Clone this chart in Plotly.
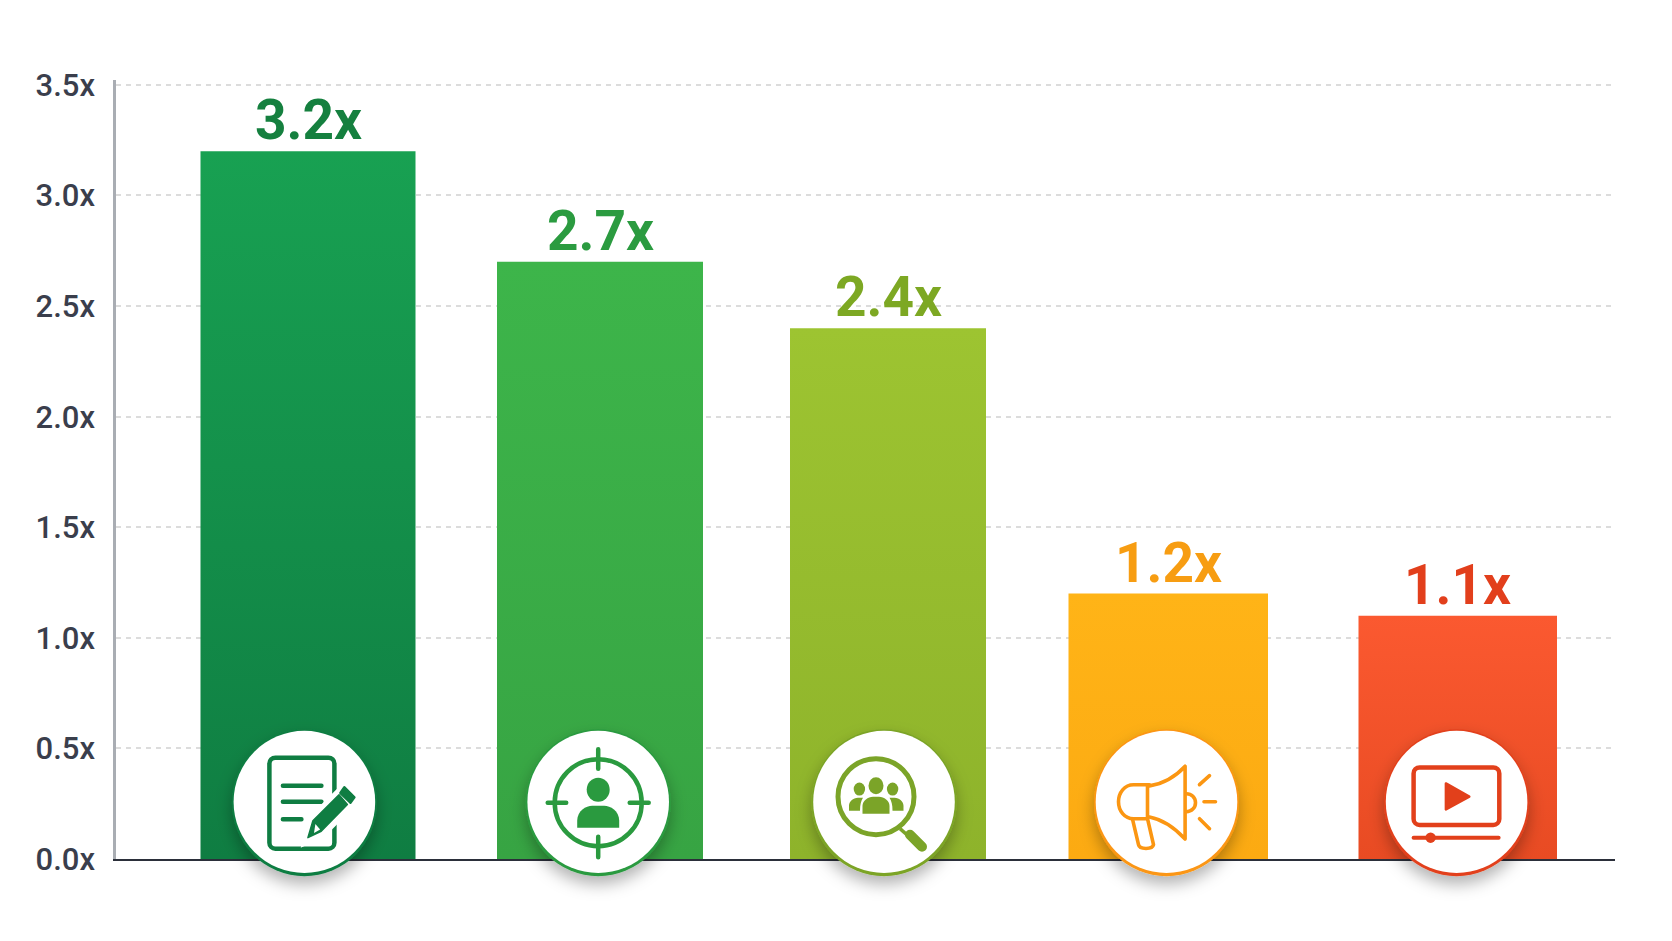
import base64
import plotly.graph_objects as go

# Chart data
categories = ["Written content", "Targeting", "Community", "Advertising", "Video"]
multipliers = [3.2, 2.7, 2.4, 1.2, 1.1]
tick_values = [0.0, 0.5, 1.0, 1.5, 2.0, 2.5, 3.0, 3.5]
tick_labels = ["0.0x", "0.5x", "1.0x", "1.5x", "2.0x", "2.5x", "3.0x", "3.5x"]

# Page frame, in pixels
WIDTH, HEIGHT = 1672, 941
LEFT, RIGHT, TOP, BOTTOM = 116.0, 1615.0, 80.0, 858.8
GRID_TOP = 84.9
Y_TOP = 3.5 + (GRID_TOP - TOP) / ((BOTTOM - GRID_TOP) / 3.5)

# Bars are slightly unevenly spaced: edges in pixels, converted to category units below
CENTER0, STEP = 308.7, 287.3
bar_edges = [(200.5, 415.5), (497, 703), (790, 986), (1068.5, 1268), (1358.5, 1557)]
bar_offsets = [(a - CENTER0) / STEP - i for i, (a, b) in enumerate(bar_edges)]
bar_widths = [(b - a) / STEP for a, b in bar_edges]

gradient_top = ["#18a152", "#3db54a", "#9dc431", "#ffb417", "#fb5930"]
gradient_bottom = ["#0f7d42", "#37a443", "#8eb32b", "#fcaa12", "#e84b23"]
label_colors = ["#15803f", "#2b9b40", "#7da823", "#f79d12", "#e23f1c"]
icon_colors = ["#0f7d42", "#2a9a3f", "#7ba428", "#fb9612", "#e2401b"]
badge_x = [304.4, 598.2, 884.0, 1166.5, 1456.6]
BADGE_Y, BADGE_BOX = 802.5, 220

doc_icon = """
<rect x="-35" y="-45" width="65" height="91" rx="6" fill="none" stroke="C" stroke-width="4.5"/>
<path d="M-21.5-17H17M-21.5-1H17M-21.5 16.5H-3" fill="none" stroke="C" stroke-width="4.5" stroke-linecap="round"/>
<path d="M3 37 8 17 35-10 46 2 18 30Z" fill="#fff" stroke="#fff" stroke-width="9"/>
<path d="M3.5 35 8.5 18 34.6-7.9 43 1.8 16.8 28.6Z" fill="C" stroke="C" stroke-width="1.5" stroke-linejoin="round"/>
<path d="M40-15.4 50-5.4 46 0 36-9.6Z" fill="C" stroke="C" stroke-width="2.5" stroke-linejoin="round"/>
<path d="M11 21.4 15.7 26.8 9.6 30.4Z" fill="#fff"/>
"""
target_icon = """
<circle r="43.5" fill="none" stroke="C" stroke-width="4.5"/>
<path d="M0-53.5V-34M0 34V54.5M-50.5 0H-32M31.5 0H50.5" fill="none" stroke="C" stroke-width="4.5" stroke-linecap="round"/>
<ellipse cx="0" cy="-13" rx="11.5" ry="12" fill="C"/>
<path d="M-21 25V18C-21 8-12 3-6 3H6C12 3 21 8 21 18V25Z" fill="C"/>
"""
search_icon = """
<circle cx="-8" cy="-6" r="38" fill="none" stroke="C" stroke-width="5"/>
<path d="M16 26 24 33" stroke="C" stroke-width="3.5"/>
<path d="M26 32 38 44" stroke="C" stroke-width="10" stroke-linecap="round"/>
<ellipse cx="-8" cy="-17" rx="7.5" ry="8.5" fill="C"/>
<ellipse cx="-24.6" cy="-13.6" rx="5.7" ry="6.5" fill="C"/>
<ellipse cx="8.6" cy="-13.6" rx="5.7" ry="6.5" fill="C"/>
<path d="M-35 8V3C-35-1-31-5-26-5H-21C-23-2-24 2-24 8Z" fill="C"/>
<path d="M19.5 8V3C19.5-1 15.5-5 10.5-5H5.5C7.5-2 8.500 2 8.500 8Z" fill="C"/>
<path d="M-21.500 11V3C-21.500-2-16-6-11-6H-5C0-6 5.500-2 5.500 3V11Z" fill="C"/>
"""
horn_icon = """
<g fill="none" stroke="C" stroke-width="3.6" stroke-linecap="round" stroke-linejoin="round">
<path d="M-17-16.800C-3-19 9-26 18.600-36.400V36.400C9 26-3 17-17 14.300"/>
<path d="M-19 16H-33C-42 16-48 8-48-1-48-10-42-18-33-18H-19ZM-19-18H-17"/>
<path d="M-34 16.400-28 42C-27 47-14 47-13 42L-19 16"/>
<path d="M20-9A9 9 0 0 1 20 9"/>
<path d="M33-18 43-27M37.500-1H49M33 16 43 26"/>
</g>
"""
video_icon = """
<rect x="-43" y="-35.300" width="85.700" height="57.600" rx="6" fill="none" stroke="C" stroke-width="4.500"/>
<path d="M-10.700-19.300 12.700-6-10.700 6.700Z" fill="C" stroke="C" stroke-width="2.500" stroke-linejoin="round"/>
<path d="M-43 35H42" stroke="C" stroke-width="4" stroke-linecap="round"/>
<circle cx="-26" cy="35" r="5.200" fill="C"/>
"""
icons = [doc_icon, target_icon, search_icon, horn_icon, video_icon]


def badge_uri(icon, color):
    """White round badge with a soft shadow, a thin coloured rim and its pictogram."""
    body = icon.replace('"C"', f'"{color}"')
    half = BADGE_BOX / 2
    svg = f"""<svg xmlns="http://www.w3.org/2000/svg" width="{BADGE_BOX}" height="{BADGE_BOX}" viewBox="{-half} {-half} {BADGE_BOX} {BADGE_BOX}">
<defs><filter id="s" x="-30%" y="-30%" width="160%" height="170%"><feDropShadow dx="0" dy="8" stdDeviation="8" flood-color="#000" flood-opacity="0.3"/></filter></defs>
<ellipse cx="0" cy="0" rx="72.500" ry="73.500" fill="{color}" filter="url(#s)"/>
<ellipse cx="0" cy="-0.800" rx="70.800" ry="71" fill="#fff"/>
{body}</svg>"""
    return "data:image/svg+xml;base64," + base64.b64encode(svg.encode()).decode()


fig = go.Figure(
    go.Bar(
        x=categories,
        y=multipliers,
        width=bar_widths,
        offset=bar_offsets,
        marker=dict(color=gradient_top, line=dict(width=0)),
        hoverinfo="skip",
    )
)

# Value labels sit just above their bars
for i, value in enumerate(multipliers):
    fig.add_annotation(
        x=i + bar_offsets[i] + bar_widths[i] / 2,
        y=value,
        text=f"{value:.1f}x",
        showarrow=False,
        yanchor="bottom",
        yshift=-3,
        font=dict(family="Roboto", size=55, weight=700, color=label_colors[i]),
    )

for px, icon, color in zip(badge_x, icons, icon_colors):
    fig.add_layout_image(
        source=badge_uri(icon, color),
        xref="paper",
        yref="paper",
        x=(px - LEFT) / (RIGHT - LEFT),
        y=(BOTTOM - BADGE_Y) / (BOTTOM - TOP),
        sizex=BADGE_BOX / (RIGHT - LEFT),
        sizey=BADGE_BOX / (BOTTOM - TOP),
        sizing="stretch",
        xanchor="center",
        yanchor="middle",
        layer="above",
    )

fig.update_layout(
    width=WIDTH,
    height=HEIGHT,
    margin=dict(l=LEFT, r=WIDTH - RIGHT, t=TOP, b=HEIGHT - BOTTOM, pad=0),
    paper_bgcolor="#ffffff",
    plot_bgcolor="#ffffff",
    showlegend=False,
    font=dict(family="Roboto"),
    xaxis=dict(
        type="category",
        range=[(LEFT - CENTER0) / STEP, (RIGHT - CENTER0) / STEP],
        showticklabels=False,
        ticks="",
        showgrid=False,
        showline=True,
        linecolor="#2b2f3a",
        linewidth=2,
        zeroline=False,
    ),
    yaxis=dict(
        range=[0, Y_TOP],
        tickmode="array",
        tickvals=tick_values,
        ticktext=tick_labels,
        ticks="",
        ticklabelstandoff=12,
        tickfont=dict(family="Roboto", size=31, weight=500, color="#3a3e4c"),
        showgrid=True,
        gridcolor="#dcdcdc",
        gridwidth=1.5,
        griddash="5px,5px",
        showline=True,
        linecolor="#a9adb3",
        linewidth=2.5,
        zeroline=False,
    ),
)

# Vertical colour fades on the bars, applied to the rendered SVG paths
fade_js = """
var gd = document.getElementById('{plot_id}');
var tops = %s, bottoms = %s;
function applyFades() {
  var svg = gd.querySelector('.main-svg');
  var ns = 'http://www.w3.org/2000/svg';
  var defs = svg.querySelector('defs');
  gd.querySelectorAll('.bars .point path').forEach(function (path, i) {
    var id = 'bar-fade-' + i;
    if (!svg.querySelector('#' + id)) {
      var g = document.createElementNS(ns, 'linearGradient');
      g.setAttribute('id', id);
      g.setAttribute('x1', '0'); g.setAttribute('y1', '0');
      g.setAttribute('x2', '0'); g.setAttribute('y2', '1');
      [[0, tops[i]], [1, bottoms[i]]].forEach(function (s) {
        var stop = document.createElementNS(ns, 'stop');
        stop.setAttribute('offset', s[0]);
        stop.setAttribute('stop-color', s[1]);
        g.appendChild(stop);
      });
      defs.appendChild(g);
    }
    path.style.fill = 'url(#' + id + ')';
  });
}
applyFades();
gd.on('plotly_afterplot', applyFades);
""" % (gradient_top, gradient_bottom)

fig.write_html("out.html", post_script=fade_js, config={"displayModeBar": False})
